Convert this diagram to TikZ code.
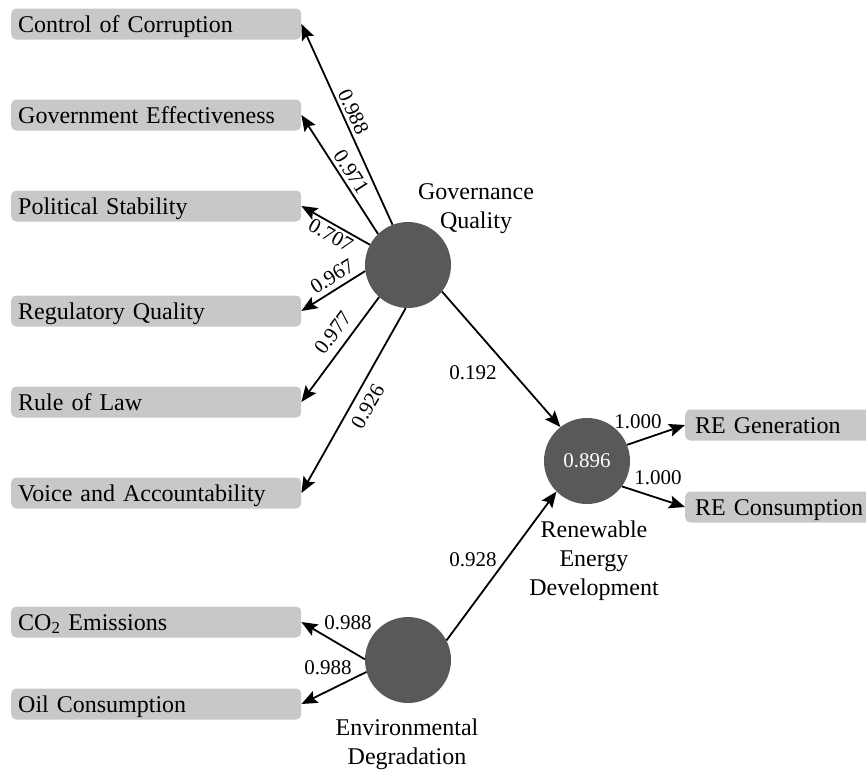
\documentclass[tikz,border=0pt]{standalone}
\usepackage{fontspec}
\setmainfont{Liberation Serif}
\usetikzlibrary{arrows.meta}
\definecolor{indbox}{RGB}{200,200,200}
\definecolor{latent}{RGB}{89,89,89}

\begin{document}
\begin{tikzpicture}[x=1pt,y=-1pt,
  indicator/.style={fill=indbox, rounded corners=5pt, minimum height=31pt,
    text width=276pt, inner xsep=7pt, inner ysep=0pt, align=left,
    text height=22pt, text depth=6pt,
    anchor=west, font=\fontsize{24}{28}\selectfont},
  outcome/.style={indicator, text width=180pt, inner xsep=10pt},
  construct/.style={circle, fill=latent, minimum size=86pt, inner sep=0pt,
    text=white, font=\fontsize{21}{25}\selectfont},
  cname/.style={align=center, font=\fontsize{24}{29}\selectfont},
  lbl/.style={font=\fontsize{21}{25}\selectfont, inner sep=3pt},
  arr/.style={line width=1.8pt, -{Stealth[length=16pt,width=13pt,inset=3pt]}}
]
\useasboundingbox (0,0) rectangle (866,769);

% indicator boxes
\node[indicator] (coc) at (11,24)  {Control of Corruption};
\node[indicator] (ge)  at (11,115) {Government Effectiveness};
\node[indicator] (ps)  at (11,206) {Political Stability};
\node[indicator] (rq)  at (11,311) {Regulatory Quality};
\node[indicator] (rol) at (11,402) {Rule of Law};
\node[indicator] (va)  at (11,493) {Voice and Accountability};
\node[indicator] (co2) at (11,622) {CO\textsubscript{2} Emissions};
\node[indicator] (oil) at (11,704) {Oil Consumption};
\node[outcome] (reg) at (685,425) {RE Generation};
\node[outcome] (rec) at (685,507) {RE Consumption};

% latent constructs
\node[construct] (gq)  at (408,265) {};
\node[construct] (red) at (587,461) {0.896};
\node[construct] (ed)  at (408,660) {};

\node[cname] (gqname)  at (476,209) {Governance\\Quality};
\node[cname] (redname) at (594,561) {Renewable\\Energy\\Development};
\node[cname] (edname)  at (407,744) {Environmental\\Degradation};

% outer loadings of governance quality
\draw[arr] (gq.111) -- node[lbl,sloped,above,pos=0.54] {0.988} (coc.east);
\draw[arr] (gq.134) -- node[lbl,sloped,above,pos=0.47] {0.971} (ge.east);
\draw[arr] (gq.152) -- node[lbl,sloped,below,pos=0.49] {0.707} (ps.east);
\draw[arr] (gq.188) -- node[lbl,sloped,above=2pt,pos=0.41] {0.967} (rq.east);
\draw[arr] (gq.228) -- node[lbl,sloped,above=5pt,pos=0.43] {0.977} (rol.east);
\draw[arr] (gq.267) -- node[lbl,sloped,below=4pt,pos=0.49] {0.926} (va.east);

% outer loadings of environmental degradation
\draw[arr] (ed.179) -- (co2.east);
\draw[arr] (ed.196) -- (oil.east);
\node[lbl] (lco2) at (348,623) {0.988};
\node[lbl] (loil) at (328,668) {0.988};

% outer loadings of renewable energy development
\draw[arr] (red.22) -- (reg.west);
\draw[arr] (red.-36) -- (rec.west);
\node[lbl] (lreg) at (638,422) {1.000};
\node[lbl] (lrec) at (658,478) {1.000};

% structural paths
\draw[arr] (gq.322) -- (red.128);
\draw[arr] (ed.27) -- (red.225);
\node[lbl] (lgq) at (473,373) {0.192};
\node[lbl] (led) at (473,560) {0.928};
\end{tikzpicture}
\end{document}
